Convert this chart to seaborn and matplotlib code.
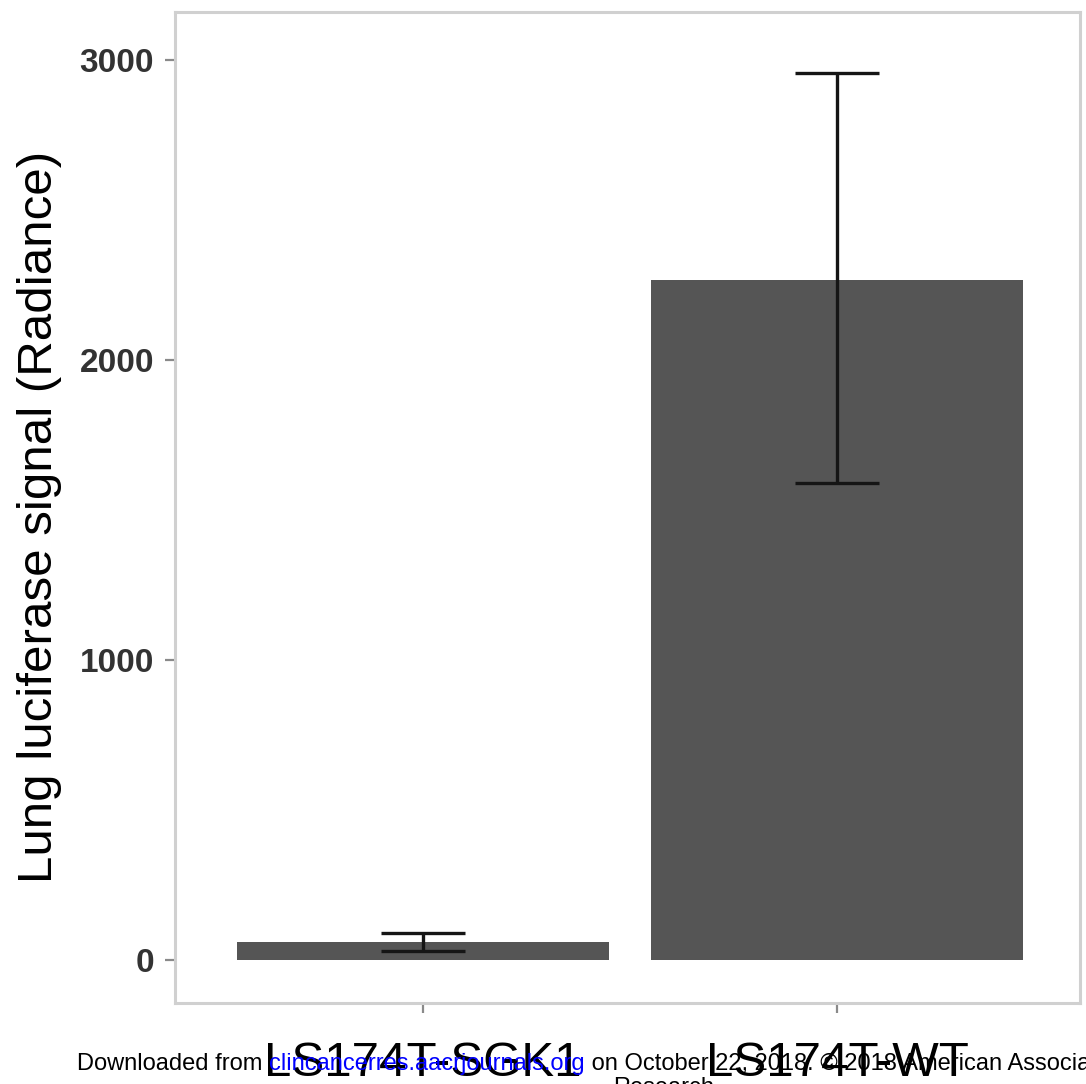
import matplotlib
matplotlib.use("Agg")
import matplotlib.pyplot as plt
import seaborn as sns
import pandas as pd
import numpy as np

# ---- data ----
groups = ["LS174T-SGK1", "LS174T-WT"]
means = [60, 2267]
err_low = [30, 1590]
err_high = [90, 2957]
yticks = [0, 1000, 2000, 3000]
ylabel = "Lung luciferase signal (Radiance)"
wm_parts = ["Downloaded from ", "clincancerres.aacrjournals.org",
            " on October 22, 2018. \u00a9 2018 American Association for Cancer"]
wm_colors = ["black", "#0000ff", "black"]
wm_line2 = "Research."

sns.set_theme(style="white")
plt.rcParams["font.family"] = ["Liberation Sans", "DejaVu Sans"]

W, H = 1086, 1084
fig = plt.figure(figsize=(W / 100, H / 100), dpi=100)
L, R, T, B = 175, 1080, 12, 1003
ax = fig.add_axes([L / W, 1 - B / H, (R - L) / W, (B - T) / H])

df = pd.DataFrame({"group": groups, "value": means})
sns.barplot(data=df, x="group", y="value", color="#555555", saturation=1,
            width=0.9, errorbar=None, ax=ax, linewidth=0)

x = np.arange(len(groups))
m = np.array(means, dtype=float)
yerr = [m - np.array(err_low), np.array(err_high) - m]
ax.errorbar(x, m, yerr=yerr, fmt="none", ecolor="#151515", elinewidth=2.4,
            capsize=30, capthick=2.4, zorder=5)

ax.set_xlim(-0.599, 1.587)
ax.set_ylim(-143, 3160)
ax.set_yticks(yticks)
ax.set_yticklabels([str(v) for v in yticks], fontsize=24, fontweight="bold",
                   color="#333333")
ax.set_xticks(x)
ax.set_xticklabels(groups, fontsize=35.5, color="black")
ax.tick_params(axis="both", which="major", color="#8a8a8a", length=7,
               width=1.6, bottom=True, left=True)
ax.tick_params(axis="y", pad=8)
ax.tick_params(axis="x", pad=20)
ax.set_xlabel("")
ax.set_ylabel(ylabel, fontsize=35.5, color="black")
ax.yaxis.set_label_coords(-0.125, 0.49)
for s in ax.spines.values():
    s.set_color("#d0d0d0")
    s.set_linewidth(2.2)
ax.grid(False)
ax.set_facecolor("white")

# ---- watermark overlay ----
fig.canvas.draw()
rend = fig.canvas.get_renderer()
xpos = 77
yb1 = 1 - 1070 / H
for txt, col in zip(wm_parts, wm_colors):
    t = fig.text(xpos / W, yb1, txt, fontsize=17, color=col,
                 ha="left", va="baseline", zorder=10)
    bb = t.get_window_extent(renderer=rend)
    xpos += bb.width
fig.text(613 / W, 1 - 1094 / H, wm_line2, fontsize=17, color="black",
         ha="left", va="baseline", zorder=10)

fig.savefig("out.png", dpi=100)
